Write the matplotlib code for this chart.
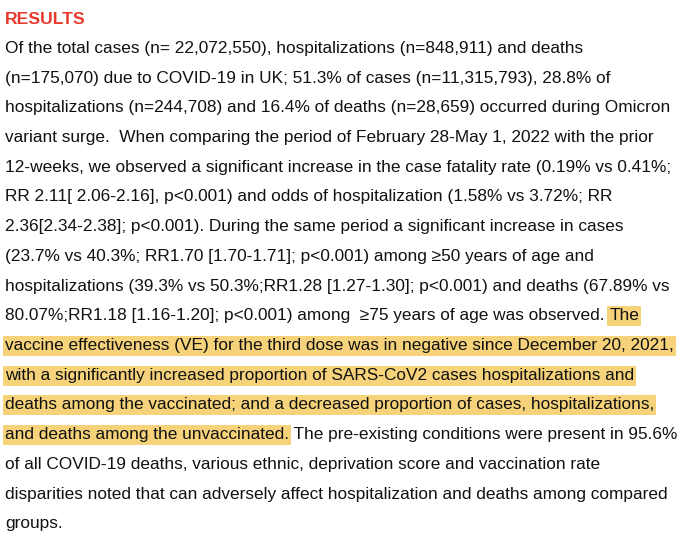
import matplotlib
matplotlib.use('Agg')
import matplotlib.pyplot as plt
from matplotlib.patches import Rectangle

plt.rcParams['font.family'] = ['Liberation Sans', 'DejaVu Sans']

title = 'RESULTS'

# each line: list of (text, highlighted)
lines = [
    [('Of the total cases (n= 22,072,550), hospitalizations (n=848,911) and deaths', False)],
    [('(n=175,070) due to COVID-19 in UK; 51.3% of cases (n=11,315,793), 28.8% of', False)],
    [('hospitalizations (n=244,708) and 16.4% of deaths (n=28,659) occurred during Omicron', False)],
    [('variant surge.  When comparing the period of February 28-May 1, 2022 with the prior', False)],
    [('12-weeks, we observed a significant increase in the case fatality rate (0.19% vs 0.41%;', False)],
    [('RR 2.11[ 2.06-2.16], p<0.001) and odds of hospitalization (1.58% vs 3.72%; RR', False)],
    [('2.36[2.34-2.38]; p<0.001). During the same period a significant increase in cases', False)],
    [('(23.7% vs 40.3%; RR1.70 [1.70-1.71]; p<0.001) among \u226550 years of age and', False)],
    [('hospitalizations (39.3% vs 50.3%;RR1.28 [1.27-1.30]; p<0.001) and deaths (67.89% vs', False)],
    [('80.07%;RR1.18 [1.16-1.20]; p<0.001) among  \u226575 years of age was observed. ', False),
     ('The', True)],
    [('vaccine effectiveness (VE) for the third dose was in negative since December 20, 2021,', True)],
    [('with a significantly increased proportion of SARS-CoV2 cases hospitalizations and', True)],
    [('deaths among the vaccinated; and a decreased proportion of cases, hospitalizations,', True)],
    [('and deaths among the unvaccinated.', True),
     (' The pre-existing conditions were present in 95.6%', False)],
    [('of all COVID-19 deaths, various ethnic, deprivation score and vaccination rate', False)],
    [('disparities noted that can adversely affect hospitalization and deaths among compared', False)],
    [('groups.', False)],
]

fig = plt.figure(figsize=(6.8, 5.4), dpi=100)
ax = fig.add_axes([0, 0, 1, 1])
ax.set_xlim(0, 680)
ax.set_ylim(540, 0)
ax.axis('off')

hl_color = '#F6D37A'
x0 = 5
base_first = 53
step = 29.7
fsize = 12.4

ax.text(x0, 24.5, title, color='#E8392C', fontsize=fsize + 0.2, fontweight='bold',
        va='baseline', ha='left')

fig.canvas.draw()
renderer = fig.canvas.get_renderer()
inv = ax.transData.inverted()

for i, segs in enumerate(lines):
    y = base_first + i * step
    x = x0
    for txt, hl in segs:
        t = ax.text(x, y, txt, fontsize=fsize, color='#111111',
                    va='baseline', ha='left', zorder=3)
        bb = t.get_window_extent(renderer)
        (xa, _), (xb, _) = inv.transform([[bb.x0, bb.y0], [bb.x1, bb.y1]])
        if hl:
            w = xb - xa
            if txt.endswith(' '):
                w -= 3
            ax.add_patch(Rectangle((xa - 2, y - 14), w + 4, 20,
                                   facecolor=hl_color, edgecolor='none', zorder=1))
        x = xb

fig.savefig('out.png', dpi=100, facecolor='white')
